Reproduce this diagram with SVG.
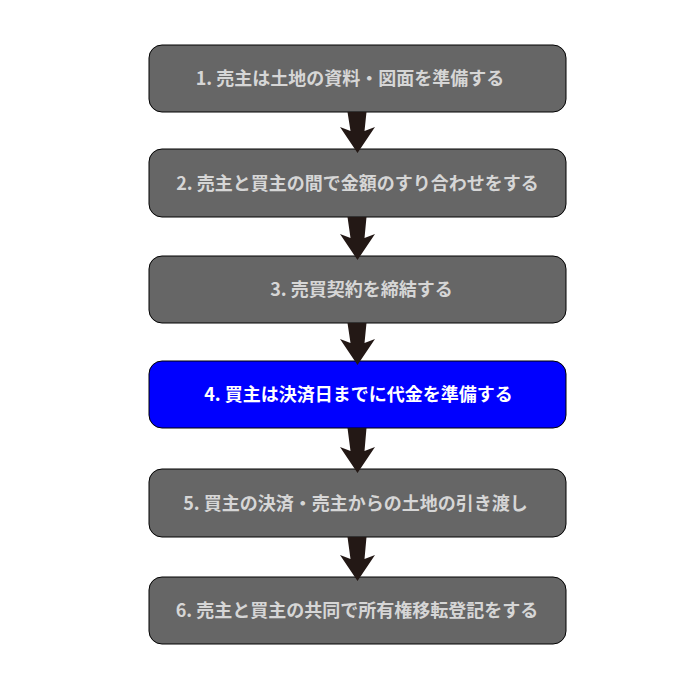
<svg xmlns="http://www.w3.org/2000/svg" width="680" height="680" viewBox="0 0 680 680">
<style>
.box{fill:#666666;stroke:#000000;stroke-width:1}
.hl{fill:#0000ff;stroke:#000000;stroke-width:1}
.t{font-family:"Noto Sans CJK JP","Noto Sans",sans-serif;font-size:18px;font-weight:bold;fill:#d6d6d6;text-anchor:middle}
.tw{fill:#ffffff}
.arr{fill:#231815}
</style>
<rect width="680" height="680" fill="#ffffff"/>
<g id="step1"><rect class="box" x="149" y="45" width="417" height="67" rx="13"/><text class="t" x="350" y="85">1. 売主は土地の資料・図面を準備する</text></g>
<g id="step2"><rect class="box" x="149" y="149" width="417" height="68" rx="13"/><text class="t" x="357.5" y="189.5">2. 売主と買主の間で金額のすり合わせをする</text></g>
<g id="step3"><rect class="box" x="149" y="256" width="417" height="67" rx="13"/><text class="t" x="361.5" y="296">3. 売買契約を締結する</text></g>
<g id="step4"><rect class="hl" x="149" y="361" width="417" height="67" rx="13"/><text class="t tw" x="358.5" y="401">4. 買主は決済日までに代金を準備する</text></g>
<g id="step5"><rect class="box" x="149" y="469" width="417" height="68" rx="13"/><text class="t" x="355.5" y="509.5">5. 買主の決済・売主からの土地の引き渡し</text></g>
<g id="step6"><rect class="box" x="149" y="577" width="417" height="67" rx="13"/><text class="t" x="357" y="617">6. 売主と買主の共同で所有権移転登記をする</text></g>
<g id="connectors">
<polygon class="arr" points="347.5,112 366.5,112 364.5,131 375,127 357.5,153 340,127 350.5,131"/>
<polygon class="arr" points="347.5,217 366.5,217 364.5,238 375,234 357.5,260 340,234 350.5,238"/>
<polygon class="arr" points="347.5,323 366.5,323 364.5,343 375,339 357.5,365 340,339 350.5,343"/>
<polygon class="arr" points="347.5,428 366.5,428 364.5,451 375,447 357.5,473 340,447 350.5,451"/>
<polygon class="arr" points="347.5,537 366.5,537 364.5,559 375,555 357.5,581 340,555 350.5,559"/>
</g>
</svg>
